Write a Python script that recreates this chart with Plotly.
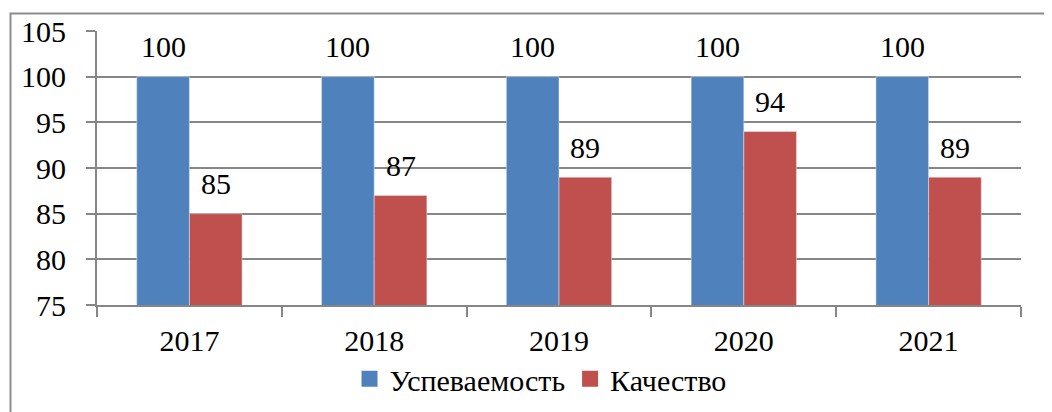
import plotly.graph_objects as go

# данные
years = ["2017", "2018", "2019", "2020", "2021"]
uspevaemost = [100, 100, 100, 100, 100]
kachestvo = [85, 87, 89, 94, 89]

FONT = "Liberation Serif"
BLUE = "#4F81BD"
RED = "#C0504D"

fig = go.Figure()
fig.add_trace(go.Bar(x=years, y=uspevaemost, name="Успеваемость",
                     marker_color=BLUE, showlegend=False))
fig.add_trace(go.Bar(x=years, y=kachestvo, name="Качество",
                     marker_color=RED, showlegend=False))

# легенда с квадратными маркерами
for name, color in [("Успеваемость", BLUE), ("Качество", RED)]:
    fig.add_trace(go.Scatter(x=[years[0]], y=[None], mode="markers", name=name,
                             marker=dict(symbol="square", size=17, color=color)))

# подписи значений над столбиками (x — номер категории, иначе "2017" читается как индекс)
for vals, shift in [(uspevaemost, -26.3), (kachestvo, 26.3)]:
    for i, v in enumerate(vals):
        fig.add_annotation(x=i, y=v, text=str(v), showarrow=False,
                           xshift=shift, yshift=30, yanchor="middle",
                           font=dict(family=FONT, size=30, color="black"))

# страница смещает график на 8px (отступ body), поэтому поля уменьшены
fig.update_layout(
    width=1052, height=412,
    margin=dict(l=89, r=39, t=23, b=115, autoexpand=False),
    paper_bgcolor="white", plot_bgcolor="white",
    font=dict(family=FONT, size=30, color="black"),
    barmode="group", bargap=0.43, bargroupgap=0,
    showlegend=True,
    legend=dict(orientation="h", x=0.48, xanchor="center",
                yref="container", y=0.1, yanchor="middle",
                font=dict(family=FONT, size=30), itemwidth=30),
    # рамка вокруг диаграммы
    shapes=[dict(type="rect", xref="paper", yref="paper",
                 x0=-0.0936, x1=1.2, y0=-0.6, y1=1.0639,
                 line=dict(color="#8c8c8c", width=2), layer="below")],
)

fig.update_yaxes(range=[75, 105], dtick=5, showgrid=True, gridcolor="#868686", gridwidth=2,
                 showline=True, linecolor="#868686", linewidth=2,
                 ticks="outside", ticklen=9, tickcolor="#868686", tickwidth=2,
                 tickfont=dict(family=FONT, size=30),
                 ticklabelstandoff=14, zeroline=False, automargin=False)
fig.update_xaxes(type="category", range=[-0.5, len(years) - 0.5],
                 showline=True, linecolor="#868686", linewidth=2,
                 ticks="outside", tickson="boundaries", ticklen=10,
                 tickfont=dict(family=FONT, size=30), ticklabelstandoff=8,
                 tickcolor="#868686", tickwidth=2, showgrid=False, automargin=False)

fig.write_html("out.html")
